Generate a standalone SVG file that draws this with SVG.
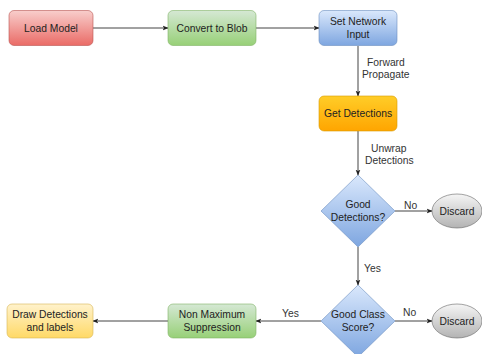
<svg xmlns="http://www.w3.org/2000/svg" width="482" height="354" viewBox="0 0 482 354">
<defs>
<linearGradient id="gRed" x1="0" y1="0" x2="0" y2="1"><stop offset="0" stop-color="#f8cecc"/><stop offset="1" stop-color="#ea6b66"/></linearGradient>
<linearGradient id="gGreen" x1="0" y1="0" x2="0" y2="1"><stop offset="0" stop-color="#d5e8d4"/><stop offset="1" stop-color="#97d077"/></linearGradient>
<linearGradient id="gBlue" x1="0" y1="0" x2="0" y2="1"><stop offset="0" stop-color="#dae8fc"/><stop offset="1" stop-color="#7ea6e0"/></linearGradient>
<linearGradient id="gOrange" x1="0" y1="0" x2="0" y2="1"><stop offset="0" stop-color="#ffcd28"/><stop offset="1" stop-color="#ffa500"/></linearGradient>
<linearGradient id="gGray" x1="0" y1="0" x2="0" y2="1"><stop offset="0" stop-color="#f5f5f5"/><stop offset="1" stop-color="#b3b3b3"/></linearGradient>
<linearGradient id="gYellow" x1="0" y1="0" x2="0" y2="1"><stop offset="0" stop-color="#fff2cc"/><stop offset="1" stop-color="#ffd966"/></linearGradient>
<marker id="arr" viewBox="0 0 10 10" refX="9" refY="5" markerWidth="6" markerHeight="6" orient="auto" markerUnits="userSpaceOnUse"><path d="M0,1 L10,5 L0,9 L2.5,5 Z" fill="#222"/></marker>
</defs>
<style>
text{font-family:"Liberation Sans",Arial,sans-serif;font-size:10.3px;fill:#222;}
.c{text-anchor:middle;}
.lbl{fill:#333;}
.edge{fill:none;stroke:#444;stroke-width:1;marker-end:url(#arr);}
</style>
<rect width="482" height="354" fill="#ffffff"/>
<g id="connectors">
<path class="edge" d="M93,28 H168"/>
<path class="edge" d="M256,28 H319"/>
<path class="edge" d="M358,46 V96"/>
<path class="edge" d="M358,131 V175"/>
<path class="edge" d="M395,211 H432"/>
<path class="edge" d="M358,247 V285"/>
<path class="edge" d="M395,321 H432"/>
<path class="edge" d="M321,321 H256"/>
<path class="edge" d="M168,321 H93"/>
<text class="lbl" x="367" y="66">Forward</text>
<text class="lbl" x="362" y="78">Propagate</text>
<text class="lbl" x="371" y="152">Unwrap</text>
<text class="lbl" x="365" y="164">Detections</text>
<text class="lbl" x="404" y="209">No</text>
<text class="lbl" x="364" y="272">Yes</text>
<text class="lbl" x="282" y="317">Yes</text>
<text class="lbl" x="403" y="316">No</text>
</g>
<g id="load-model"><rect x="9" y="10.5" width="84" height="35" rx="5" fill="url(#gRed)" stroke="#b85450" stroke-width="0.6"/><text class="c" x="51" y="31.5">Load Model</text></g>
<g id="convert-blob"><rect x="168" y="10.5" width="88" height="35" rx="5" fill="url(#gGreen)" stroke="#82b366" stroke-width="0.6"/><text class="c" x="212" y="31.5">Convert to Blob</text></g>
<g id="set-input"><rect x="319" y="10.5" width="78" height="35" rx="5" fill="url(#gBlue)" stroke="#6c8ebf" stroke-width="0.6"/><text class="c" x="358" y="25">Set Network</text><text class="c" x="358" y="38">Input</text></g>
<g id="get-detections"><rect x="319" y="96" width="78" height="35" rx="5" fill="url(#gOrange)" stroke="#d79b00" stroke-width="0.6"/><text class="c" x="358" y="117">Get Detections</text></g>
<g id="good-detections"><path d="M358,175 L395,211 L358,247 L321,211 Z" fill="url(#gBlue)" stroke="#6c8ebf" stroke-width="0.6" stroke-linejoin="round"/><text class="c" x="358" y="208">Good</text><text class="c" x="358" y="221">Detections?</text></g>
<g id="discard-1"><ellipse cx="457" cy="211" rx="25" ry="17" fill="url(#gGray)" stroke="#666666" stroke-width="0.6"/><text class="c" x="457" y="215">Discard</text></g>
<g id="good-class"><path d="M358,285 L395,321 L358,357 L321,321 Z" fill="url(#gBlue)" stroke="#6c8ebf" stroke-width="0.6" stroke-linejoin="round"/><text class="c" x="358" y="318">Good Class</text><text class="c" x="358" y="331">Score?</text></g>
<g id="discard-2"><ellipse cx="457" cy="321" rx="25" ry="17" fill="url(#gGray)" stroke="#666666" stroke-width="0.6"/><text class="c" x="457" y="325">Discard</text></g>
<g id="nms"><rect x="168" y="304" width="88" height="34" rx="5" fill="url(#gGreen)" stroke="#82b366" stroke-width="0.6"/><text class="c" x="212" y="318">Non Maximum</text><text class="c" x="212" y="331">Suppression</text></g>
<g id="draw-detections"><rect x="7" y="304" width="86" height="34" rx="5" fill="url(#gYellow)" stroke="#d6b656" stroke-width="0.6"/><text class="c" x="50" y="318">Draw Detections</text><text class="c" x="50" y="331">and labels</text></g>
</svg>
